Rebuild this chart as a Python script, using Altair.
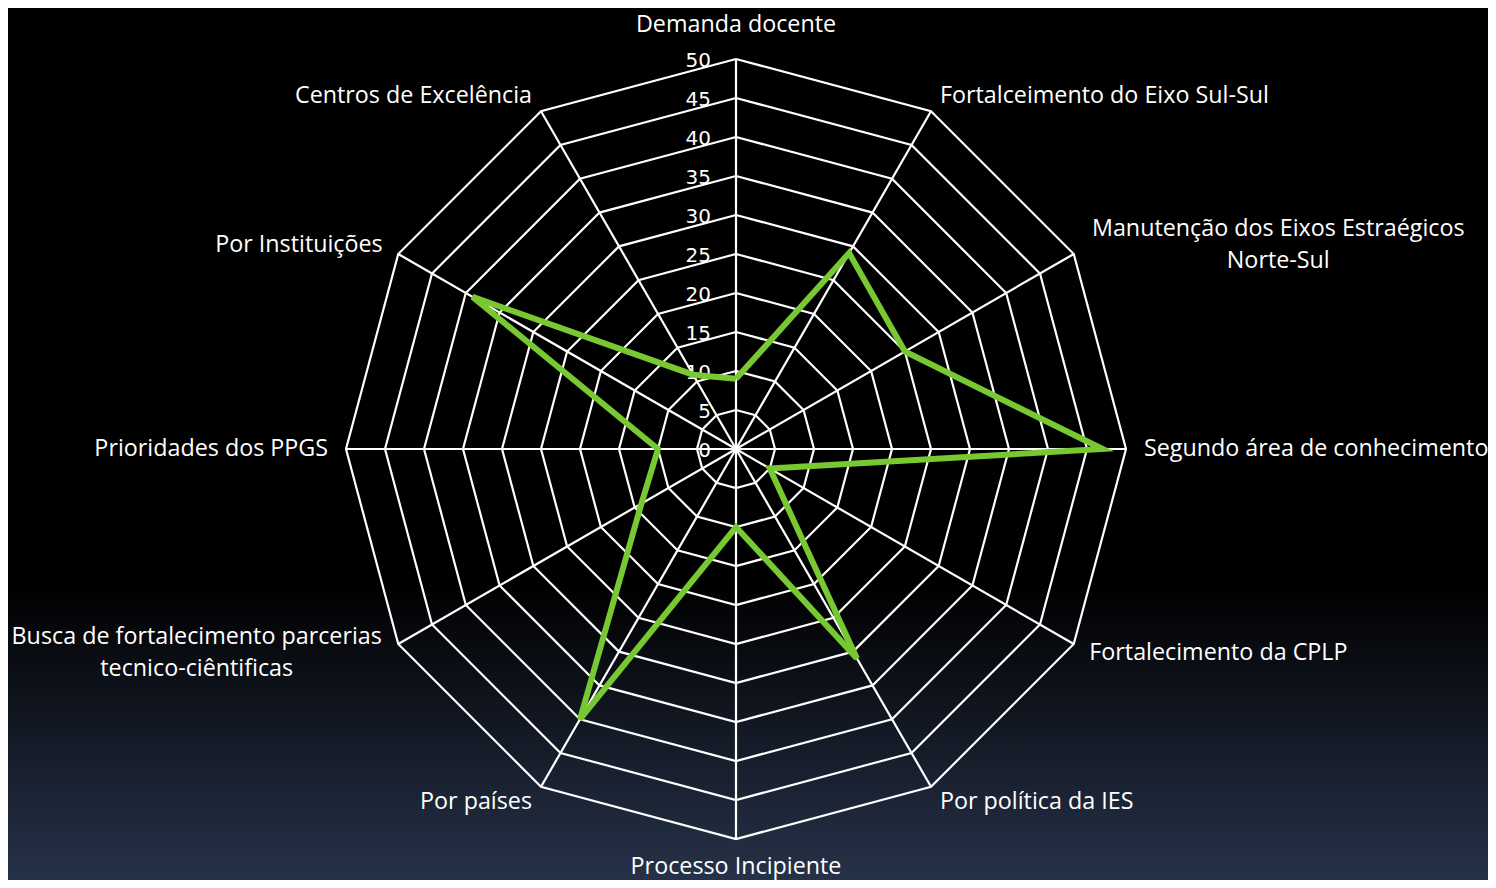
import altair as alt
import pandas as pd

categories = [
    "Demanda docente",
    "Fortalceimento do Eixo Sul-Sul",
    "Manutenção dos Eixos Estraégicos\nNorte-Sul",
    "Segundo área de conhecimento",
    "Fortalecimento da CPLP",
    "Por política da IES",
    "Processo Incipiente",
    "Por países",
    "Busca de fortalecimento parcerias\ntecnico-ciêntificas",
    "Prioridades dos PPGS",
    "Por Instituições",
    "Centros de Excelência",
]
values = [9, 29, 25, 47, 5, 31, 10, 40, 14, 10, 39, 11]
ring_values = [0, 5, 10, 15, 20, 25, 30, 35, 40, 45, 50]

W, H = 1480, 872
K = 7.8  # px per unit
CX, CY = 728, 441
LABEL_R = 52.3
FONT = "Open Sans"
FS = 23.3

n = len(categories)

series_df = pd.DataFrame({
    "idx": list(range(n)) + [n],
    "value": values + [values[0]],
    "cat": categories + [categories[0]],
})

ring_rows = []
for r in ring_values[1:]:
    for i in range(n + 1):
        ring_rows.append({"ring": r, "idx": i})
ring_df = pd.DataFrame(ring_rows)

cat_df = pd.DataFrame({"idx": list(range(n)), "cat": categories})
tick_df = pd.DataFrame({"ring": ring_values, "label": [str(v) for v in ring_values]})

xs = alt.Scale(domain=[-CX / K, (W - CX) / K], nice=False, zero=False)
ys = alt.Scale(domain=[-(H - CY) / K, CY / K], nice=False, zero=False)

ang = "datum.idx * PI / 6"

bg = alt.Chart(pd.DataFrame({"a": [0]})).mark_rect(
    color=alt.LinearGradient(
        gradient="linear",
        stops=[
            alt.GradientStop(color="#000000", offset=0),
            alt.GradientStop(color="#000000", offset=0.66),
            alt.GradientStop(color="#263249", offset=1),
        ],
        x1=0, x2=0, y1=0, y2=1,
    )
).encode(x=alt.value(0), x2=alt.value(W), y=alt.value(0), y2=alt.value(H))

ticks = alt.Chart(tick_df).transform_calculate(x0="0").mark_text(
    align="right", baseline="middle", dx=-25, dy=2, color="white",
    fontSize=20, font="DejaVu Sans",
).encode(
    x=alt.X("x0:Q", scale=xs, axis=None),
    y=alt.Y("ring:Q", scale=ys, axis=None),
    text="label:N",
)

rings = alt.Chart(ring_df).transform_calculate(
    x=f"datum.ring * sin({ang})", y=f"datum.ring * cos({ang})"
).mark_line(color="white", strokeWidth=2.2).encode(
    x=alt.X("x:Q", scale=xs, axis=None),
    y=alt.Y("y:Q", scale=ys, axis=None),
    detail="ring:N",
    order="idx:Q",
)

spokes = alt.Chart(cat_df).transform_calculate(
    x0="0", y0="0",
    x2=f"50 * sin({ang})", y2=f"50 * cos({ang})",
).mark_rule(color="white", strokeWidth=2.2).encode(
    x=alt.X("x0:Q", scale=xs, axis=None),
    y=alt.Y("y0:Q", scale=ys, axis=None),
    x2="x2:Q",
    y2="y2:Q",
)

line = alt.Chart(series_df).transform_calculate(
    x=f"datum.value * sin({ang})", y=f"datum.value * cos({ang})"
).mark_line(color="#78c832", strokeWidth=6, strokeJoin="miter").encode(
    x=alt.X("x:Q", scale=xs, axis=None),
    y=alt.Y("y:Q", scale=ys, axis=None),
    order="idx:Q",
)


def label_layer(idxs, align, dx=0, dy=0):
    return alt.Chart(cat_df).transform_filter(
        alt.FieldOneOfPredicate(field="idx", oneOf=idxs)
    ).transform_calculate(
        x=f"{LABEL_R} * sin({ang})", y=f"{LABEL_R} * cos({ang})"
    ).mark_text(
        align=align, baseline="middle", dx=dx, dy=dy, color="white",
        fontSize=FS, font=FONT, lineBreak="\n", lineHeight=32,
    ).encode(
        x=alt.X("x:Q", scale=xs, axis=None),
        y=alt.Y("y:Q", scale=ys, axis=None),
        text="cat:N",
    )


labels = [
    label_layer([0], "center", dy=-16),
    label_layer([6], "center", dy=10),
    label_layer([1, 3, 4, 5], "left"),
    label_layer([7, 9, 10, 11], "right"),
    label_layer([2], "center", dx=189, dy=-16),
    label_layer([8], "center", dx=-186, dy=-16),
]

chart = alt.layer(bg, ticks, rings, spokes, line, *labels).properties(
    width=W, height=H, padding=0,
    autosize=alt.AutoSizeParams(type="none"),
    background="#000000",
).configure_view(stroke=None)

chart.save("out.html", embed_options={"renderer": "svg", "actions": False})
